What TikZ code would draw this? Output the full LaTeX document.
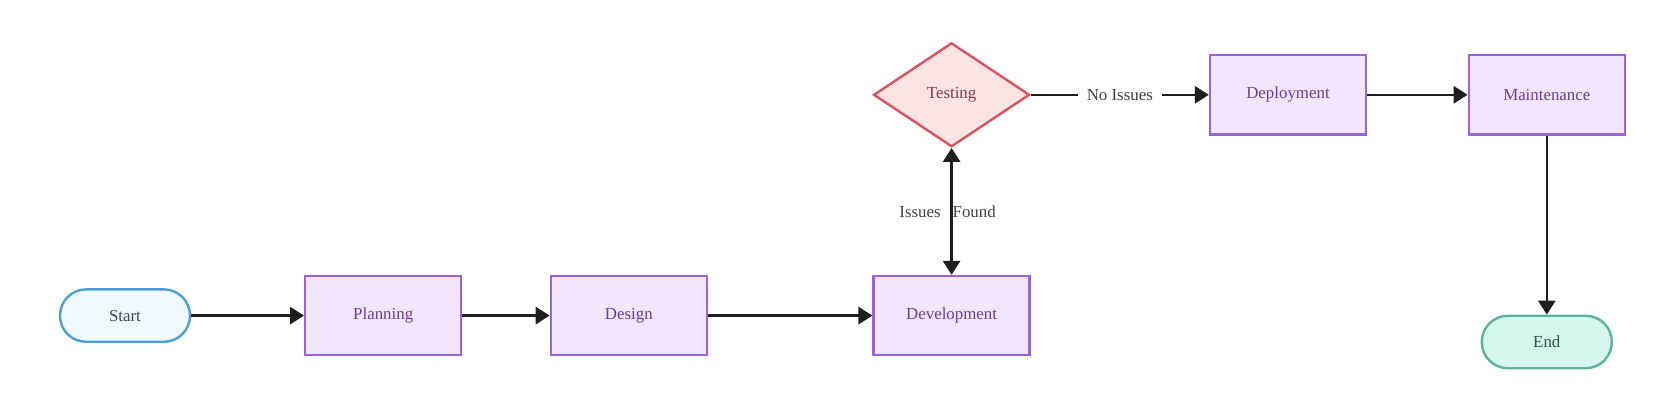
\documentclass[tikz,border=0pt]{standalone}
\usepackage{fontspec}
\setmainfont{Liberation Serif}
\usetikzlibrary{arrows.meta,shapes.geometric}

\definecolor{procfill}{HTML}{F1E6FC}
\definecolor{procdraw}{HTML}{9B62E0}
\definecolor{proctext}{HTML}{6A3D9E}
\definecolor{startfill}{HTML}{F0F8FD}
\definecolor{startdraw}{HTML}{4C9FD5}
\definecolor{starttext}{HTML}{2E4B60}
\definecolor{testfill}{HTML}{FCE4E5}
\definecolor{testdraw}{HTML}{D9525F}
\definecolor{testtext}{HTML}{8A3B45}
\definecolor{endfill}{HTML}{D6F7EE}
\definecolor{enddraw}{HTML}{5CB49E}
\definecolor{endtext}{HTML}{2C5047}
\definecolor{flowline}{HTML}{1E1E1E}

\begin{document}
\begin{tikzpicture}[
  process/.style={draw=procdraw,fill=procfill,text=proctext,line width=1.7pt,
    minimum width=3.9cm,minimum height=1.98cm,inner sep=0pt},
  terminal/.style={rounded corners=0.65cm,line width=1.7pt,
    minimum width=3.25cm,minimum height=1.31cm,inner sep=0pt},
  decision/.style={diamond,draw=testdraw,fill=testfill,text=testtext,line width=1.7pt,
    minimum width=3.9cm,minimum height=2.6cm,inner sep=0pt},
  flow/.style={draw=flowline,line width=1.8pt,-{Triangle[length=0.35cm,width=0.43cm]}},
  every node/.style={font=\fontsize{12pt}{14pt}\selectfont}
]
  \useasboundingbox (0,0) rectangle (42,10.25);
% Bottom row
  \node[terminal,draw=startdraw,fill=startfill,text=starttext] (start) at (3.125,2.36) {Start};
  \node[process] (planning) at (9.58,2.36) {Planning};
  \node[process] (design) at (15.72,2.36) {Design};
  \node[process] (development) at (23.79,2.36) {Development};
% Top row
  \node[decision] (testing) at (23.79,7.88) {Testing};
  \node[process] (deployment) at (32.2,7.88) {Deployment};
  \node[process] (maintenance) at (38.67,7.88) {Maintenance};
  \node[terminal,draw=enddraw,fill=endfill,text=endtext] (end) at (38.67,1.7) {End};
% Connectors
  \draw[flow] (start) -- (planning);
  \draw[flow] (planning) -- (design);
  \draw[flow] (design) -- (development);
  \draw[flow,{Triangle[length=0.35cm,width=0.43cm]}-{Triangle[length=0.35cm,width=0.43cm]}]
    (development) -- node[text=black!75,xshift=-0.1cm]{Issues\hspace{0.3cm}Found} (testing);
  \draw[flow] (testing) -- node[fill=white,text=black!75,inner xsep=0.22cm]{No Issues} (deployment);
  \draw[flow] (deployment) -- (maintenance);
  \draw[flow] (maintenance) -- (end);
\end{tikzpicture}
\end{document}
